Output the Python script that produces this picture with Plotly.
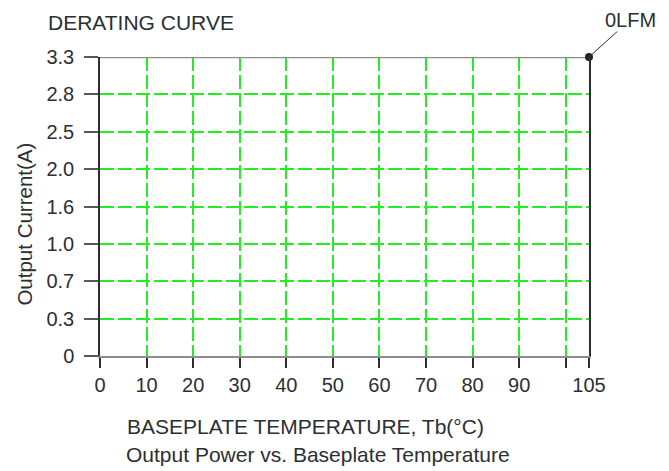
import plotly.graph_objects as go

# ---- data ----
temps = [0, 105]                 # Baseplate temperature (°C)
current_0lfm = ["3.3", "3.3"]    # Output current (A) for 0LFM curve
y_categories = ["0", "0.3", "0.7", "1.0", "1.6", "2.0", "2.5", "2.8", "3.3"]
x_tickvals = [0, 10, 20, 30, 40, 50, 60, 70, 80, 90, 100, 105]
x_ticktext = ["0", "10", "20", "30", "40", "50", "60", "70", "80", "90", "", "105"]
curve_label = "0LFM"

FONT = "Liberation Sans, Arial, Helvetica, sans-serif"
TXT = "#2b2f33"
GREEN = "#22ee22"

OFF = 8  # page body margin
L, R, T, B = 99.5 - OFF, 589 - OFF, 57 - OFF, 356 - OFF
W, H = 669 - OFF, 471 - OFF

fig = go.Figure()
fig.add_trace(go.Scatter(
    x=temps, y=current_0lfm, mode="lines",
    line=dict(color="#8a8c8e", width=2.5),
    cliponaxis=False, showlegend=False, hoverinfo="skip"))
fig.add_trace(go.Scatter(
    x=temps[-1:], y=current_0lfm[-1:], mode="markers",
    marker=dict(color="#1f2328", size=8),
    cliponaxis=False, showlegend=False, hoverinfo="skip"))

fig.update_layout(
    width=W, height=H,
    margin=dict(l=L, r=W - R, t=T, b=H - B, pad=0),
    paper_bgcolor="white", plot_bgcolor="white",
    font=dict(family=FONT, size=20, color=TXT),
    xaxis=dict(
        range=[0, 105], tickmode="array", tickvals=x_tickvals, ticktext=x_ticktext,
        showgrid=True, gridcolor=GREEN, gridwidth=1.5, griddash="14px,4px",
        showline=True, linecolor="#8a8c8e", linewidth=2, mirror=False,
        ticks="outside", ticklen=10, tickwidth=1.5, tickcolor="#2b2f33",
        zeroline=False, tickfont=dict(size=20, color=TXT),
    ),
    yaxis=dict(
        type="category", categoryorder="array", categoryarray=y_categories,
        range=[0, len(y_categories) - 1],
        showgrid=True, gridcolor=GREEN, gridwidth=1.5, griddash="14px,4px",
        showline=True, linecolor="#2b2f33", linewidth=1.5, mirror=True,
        ticks="outside", ticklen=14, tickwidth=1.5, tickcolor="#55585b",
        zeroline=False, tickfont=dict(size=20, color=TXT), ticklabelstandoff=6,
    ),
    showlegend=False,
)

def px_ann(text, X, Y, xanchor="center", angle=0, size=21):
    X -= OFF
    Y -= OFF
    fig.add_annotation(
        text=text, xref="paper", yref="paper",
        x=(X - L) / (R - L), y=(B - Y) / (B - T),
        xanchor=xanchor, yanchor="middle", showarrow=False,
        textangle=angle, font=dict(family=FONT, size=size, color=TXT))

px_ann("DERATING CURVE", 45, 22, xanchor="left")
px_ann("Output Current(A)", 23, 224, angle=-90, size=20.5)
px_ann("BASEPLATE TEMPERATURE, Tb(°C)", 125, 426, xanchor="left")
px_ann("Output Power vs. Baseplate Temperature", 124, 454, xanchor="left")

fig.add_annotation(
    x=temps[-1], y=y_categories.index(current_0lfm[-1]), xref="x", yref="y",
    text=curve_label, showarrow=True, arrowhead=0, arrowwidth=1,
    arrowcolor="#2b2f33", ax=41, ay=-37, standoff=0, borderpad=0,
    font=dict(family=FONT, size=20, color=TXT))

fig.write_html("out.html")
